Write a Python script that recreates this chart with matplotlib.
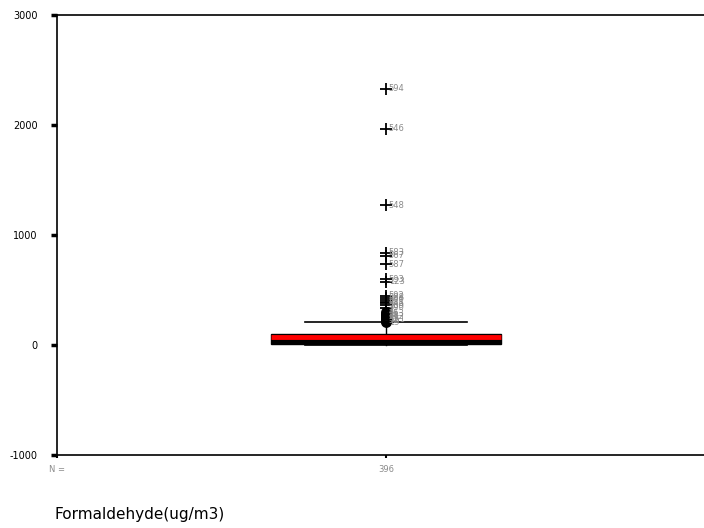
import numpy as np
import matplotlib
matplotlib.use("Agg")
import matplotlib.pyplot as plt

plt.rcParams["axes.unicode_minus"] = False

# ---------------------------------------------------
# Box summary
# ---------------------------------------------------
category = "Formaldehyde(ug/m3)"
n_cases = 396
q1, median, q3 = 8, 72, 100
whisker_lo, whisker_hi = 0, 210

# outliers (circles) and extremes (stars) with case labels
outlier_vals = [300, 285, 270, 258, 245, 232, 220, 205]
outlier_ids = ["41", "253", "88", "212", "33", "161", "52", "19"]
extreme_vals = [2330, 1965, 1270, 840, 810, 735, 600, 575,
                450, 430, 410, 395, 380, 360, 340]
extreme_ids = ["594", "546", "548", "583", "567", "587", "593", "123",
               "592", "588", "600", "411", "345", "589", "390"]

fig = plt.figure(figsize=(7.04, 5.28), dpi=100)
ax = fig.add_axes([57 / 704, 1 - 455 / 528, 658 / 704, 440 / 528])

stats = [dict(med=median, q1=q1, q3=q3, whislo=whisker_lo, whishi=whisker_hi,
              fliers=[], label=str(n_cases))]
ax.bxp(stats, positions=[1], widths=0.70, patch_artist=True, showcaps=True,
       boxprops=dict(facecolor="black", edgecolor="black", linewidth=1),
       medianprops=dict(color="red", linewidth=3.5),
       whiskerprops=dict(color="black", linewidth=1),
       capprops=dict(color="black", linewidth=1.2), capwidths=0.49)

ax.plot(np.ones(len(outlier_vals)), outlier_vals, "o", ms=6, mfc="none",
        mec="black", mew=1.8)
ax.plot(np.ones(len(extreme_vals)), extreme_vals, "+", ms=8, mec="black",
        mew=1.3)

for v, t in zip(outlier_vals + extreme_vals, outlier_ids + extreme_ids):
    ax.annotate(t, (1, v), xytext=(2, 0), textcoords="offset points",
                fontsize=6, color="#8a8a8a", va="center", ha="left")

ax.set_xlim(0, 2)
ax.set_ylim(-1000, 3000)
ax.set_yticks([-1000, 0, 1000, 2000, 3000])
ax.tick_params(axis="y", direction="out", length=4, width=2.5, labelsize=7,
               pad=10)
ax.set_xticks([0, 1])
ax.set_xticklabels(["N =", str(n_cases)])
ax.tick_params(axis="x", direction="out", length=2, width=1.5, labelsize=6,
               labelcolor="#8a8a8a", pad=5)

ax.spines["right"].set_visible(False)
for s in ["left", "top", "bottom"]:
    ax.spines[s].set_linewidth(1.2)

fig.text(55 / 704, 1 - 515 / 528, category, fontsize=11, va="center",
         ha="left")

fig.savefig("out.png", dpi=100)
